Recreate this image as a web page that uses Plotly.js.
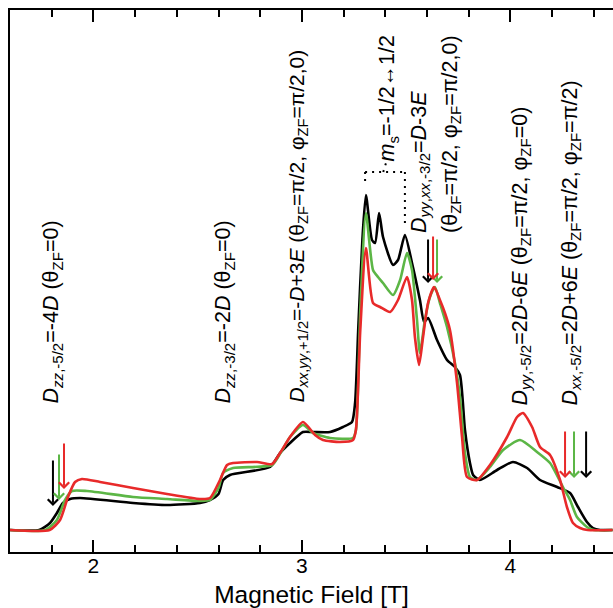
<!DOCTYPE html>
<html>
<head>
<meta charset="utf-8">
<script src="https://cdn.plot.ly/plotly-3.0.1.min.js"></script>
<style>html,body{margin:0;padding:0;background:#fff;}#chart{width:613px;height:608px;}</style>
</head>
<body>
<div id="chart"></div>
<script>
// Magnetic field [T] and simulated EPR intensity (arb. units) for the three spectra
var fieldBlack = [1.60, 1.74, 1.792, 1.825, 1.854, 1.888, 1.936, 2.19, 2.353, 2.511, 2.559, 2.60, 2.622, 2.655, 2.847, 2.895, 2.943, 3.005, 3.053, 3.135, 3.197, 3.24, 3.255, 3.27, 3.29, 3.307, 3.336, 3.351, 3.37, 3.389, 3.437, 3.461, 3.494, 3.528, 3.566, 3.586, 3.605, 3.648, 3.696, 3.734, 3.758, 3.782, 3.806, 3.821, 3.854, 3.936, 4.012, 4.08, 4.142, 4.224, 4.286, 4.324, 4.367, 4.396, 4.43, 4.49];
var intBlack = [0, 0, 7, 17, 27, 31, 32, 27, 25, 27, 30, 36, 50, 55, 63, 77, 87, 98, 98, 98, 103, 108, 127, 200, 290, 335, 290, 287, 317, 293, 265, 270, 295, 267, 230, 208, 212, 190, 170, 163, 155, 100, 67, 55, 50, 60, 68, 62, 50, 43, 37, 23, 8, 2, 0, 0];

var fieldGreen = [1.60, 1.77, 1.825, 1.864, 1.897, 1.969, 2.19, 2.353, 2.511, 2.559, 2.60, 2.622, 2.67, 2.857, 2.90, 2.943, 3.005, 3.053, 3.135, 3.245, 3.259, 3.28, 3.307, 3.341, 3.365, 3.389, 3.437, 3.471, 3.504, 3.528, 3.552, 3.566, 3.59, 3.614, 3.638, 3.662, 3.696, 3.734, 3.758, 3.782, 3.806, 3.84, 3.902, 3.965, 4.046, 4.128, 4.19, 4.252, 4.286, 4.319, 4.367, 4.40, 4.49];
var intGreen = [0, 0, 10, 30, 39, 39, 33, 31, 29, 30, 42, 57, 62, 65, 78, 93, 105, 97, 92, 92, 100, 220, 317, 260, 253, 247, 235, 250, 277, 260, 210, 177, 210, 233, 243, 227, 203, 167, 133, 77, 53, 50, 63, 80, 90, 78, 67, 43, 30, 13, 3, 0, 0];

var fieldRed = [1.60, 1.79, 1.84, 1.878, 1.912, 1.945, 2.032, 2.19, 2.353, 2.511, 2.559, 2.607, 2.641, 2.67, 2.785, 2.857, 2.895, 2.943, 3.005, 3.063, 3.101, 3.183, 3.245, 3.259, 3.28, 3.307, 3.341, 3.375, 3.423, 3.461, 3.504, 3.528, 3.542, 3.562, 3.581, 3.605, 3.634, 3.662, 3.686, 3.71, 3.744, 3.768, 3.792, 3.84, 3.902, 3.984, 4.032, 4.06, 4.104, 4.142, 4.19, 4.238, 4.271, 4.30, 4.334, 4.37, 4.49];
var intRed = [0, 0, 10, 33, 48, 51, 48, 42, 36, 31, 32, 50, 65, 67, 68, 66, 77, 93, 108, 95, 90, 88, 90, 100, 200, 282, 227, 223, 218, 230, 253, 230, 193, 165, 193, 227, 243, 230, 217, 200, 147, 93, 53, 50, 65, 93, 113, 117, 103, 83, 75, 50, 23, 7, 2, 0, 0];

// resonance-field markers (arrows): [black, green, red]
var arrowFieldLow = [1.806, 1.835, 1.859];
var arrowTipLow = [24, 30, 41];
var arrowFieldMid = [3.605, 3.648, 3.629];
var arrowTipMid = [247, 247, 250];
var arrowFieldHigh = [4.363, 4.305, 4.262];
var arrowTipHigh = [52, 52, 52];

var xTicks = [2, 3, 4];
var xTickLabels = ['2', '3', '4'];

var colors = ['#000000', '#5cb646', '#e82a2a'];
var FONT = 'Liberation Sans, Arial, Helvetica, sans-serif';

function trace(x, y, c) {
  return {x: x, y: y, type: 'scatter', mode: 'lines',
    line: {color: c, width: 2.6, shape: 'spline', smoothing: 0.6},
    hoverinfo: 'skip', showlegend: false};
}
var data = [trace(fieldBlack, intBlack, colors[0]), trace(fieldGreen, intGreen, colors[1]), trace(fieldRed, intRed, colors[2])];

var annotations = [];
function arrow(x, y, c, len) {
  annotations.push({x: x, y: y, xref: 'x', yref: 'y', text: '', showarrow: true,
    ax: 0, ay: -len, arrowcolor: c, arrowwidth: 2, arrowhead: 4, arrowsize: 1, standoff: 0});
}
for (var i = 0; i < 3; i++) {
  arrow(arrowFieldLow[i], arrowTipLow[i], colors[i], 47);
  arrow(arrowFieldMid[i], arrowTipMid[i], colors[i], 45);
  arrow(arrowFieldHigh[i], arrowTipHigh[i], colors[i], 48);
}
function label(x, y, txt, size) {
  annotations.push({x: x, y: y, xref: 'x', yref: 'y', text: txt, showarrow: false,
    textangle: -90, xanchor: 'center', yanchor: 'bottom',
    font: {family: FONT, size: size || 21.5, color: '#000'}});
}
label(1.806, 125, '<i>D</i><sub><i>zz</i>,-5/2</sub>=-4<i>D</i> (θ<sub>ZF</sub>=0)');
label(2.631, 125, '<i>D</i><sub><i>zz</i>,-3/2</sub>=-2<i>D</i> (θ<sub>ZF</sub>=0)');
label(2.977, 125, '<i>D</i><sub><i>xx</i>,<i>yy</i>,+1/2</sub>=-<i>D</i>+3<i>E</i> (θ<sub>ZF</sub>=π/2, φ<sub>ZF</sub>=π/2,0)', 21);
label(3.415, 367, '<i>m</i><sub>s</sub>=-1/2↔1/2');
label(3.566, 295, '<i>D</i><sub><i>yy</i>,<i>xx</i>,-3/2</sub>=<i>D</i>-3<i>E</i>');
label(3.715, 295, '(θ<sub>ZF</sub>=π/2, φ<sub>ZF</sub>=π/2,0)');
label(4.051, 122, '<i>D</i><sub><i>yy</i>,-5/2</sub>=2<i>D</i>-6<i>E</i> (θ<sub>ZF</sub>=π/2, φ<sub>ZF</sub>=0)');
label(4.291, 122, '<i>D</i><sub><i>xx</i>,-5/2</sub>=2<i>D</i>+6<i>E</i> (θ<sub>ZF</sub>=π/2, φ<sub>ZF</sub>=π/2)');

var dotted = {color: '#000', width: 2, dash: '2px,5px'};
var shapes = [
  {type: 'line', xref: 'x', yref: 'y', x0: 3.303, x1: 3.494, y0: 358, y1: 358, line: dotted},
  {type: 'line', xref: 'x', yref: 'y', x0: 3.494, x1: 3.494, y0: 358, y1: 302, line: dotted},
  {type: 'line', xref: 'x', yref: 'y', x0: 3.303, x1: 3.303, y0: 358, y1: 348, line: dotted},
  {type: 'line', xref: 'x', yref: 'y', x0: 3.39, x1: 3.405, y0: 358, y1: 368, line: dotted}
];

var layout = {
  width: 613, height: 608,
  margin: {l: 10, r: 0, t: 10, b: 56},
  paper_bgcolor: '#fff', plot_bgcolor: '#fff',
  xaxis: {
    range: [1.6, 4.492], showgrid: false, zeroline: false,
    showline: true, linecolor: '#000', linewidth: 2, mirror: 'allticks',
    ticks: 'inside', ticklen: 12, tickwidth: 2, tickcolor: '#000',
    tickvals: xTicks, ticktext: xTickLabels,
    tickfont: {family: FONT, size: 21, color: '#000'},
    ticklabelstandoff: -6,
    minor: {dtick: 0.2, tick0: 0, ticks: 'inside', ticklen: 7, tickwidth: 2, tickcolor: '#000', showgrid: false},
    title: {text: 'Magnetic Field [T]', font: {family: FONT, size: 24.5, color: '#000'}, standoff: 12}
  },
  yaxis: {
    range: [-22, 520], showgrid: false, zeroline: false,
    showline: true, linecolor: '#000', linewidth: 2, mirror: false,
    ticks: '', showticklabels: false
  },
  annotations: annotations,
  shapes: shapes
};
Plotly.newPlot('chart', data, layout, {staticPlot: true, displayModeBar: false});
</script>
</body>
</html>
